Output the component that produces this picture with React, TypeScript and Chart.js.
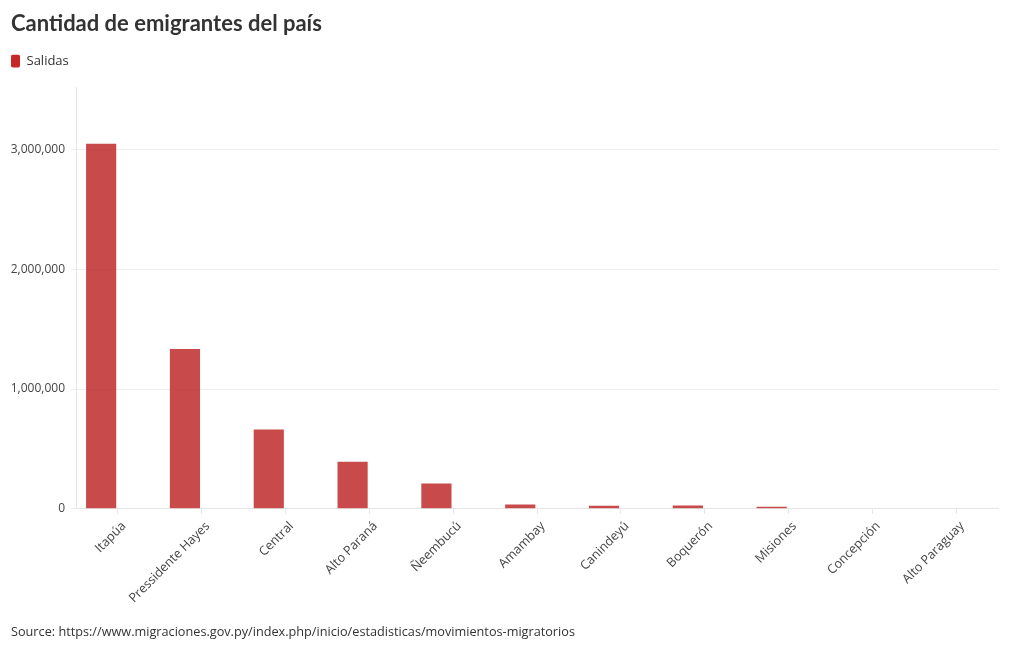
import React, { useEffect, useRef } from "react";
import { Chart, registerables } from "chart.js";

Chart.register(...registerables);

const categories = [
  "Itapúa",
  "Pressidente Hayes",
  "Central",
  "Alto Paraná",
  "Ñeembucú",
  "Amambay",
  "Canindeyú",
  "Boquerón",
  "Misiones",
  "Concepción",
  "Alto Paraguay",
];
const salidas = [3050000, 1335000, 663000, 393000, 210000, 35000, 25000, 28000, 16000, 0, 0];
const emptySeries = [null, null, null, null, null, null, null, null, null, null, null];
const yTicks = [0, 1000000, 2000000, 3000000];

const TITLE = "Cantidad de emigrantes del país";
const SOURCE = "Source: https://www.migraciones.gov.py/index.php/inicio/estadisticas/movimientos-migratorios";
const FONT = "'Open Sans', 'Noto Sans', sans-serif";

const legendGap = {
  id: "legendGap",
  beforeInit(chart: any) {
    const lg = chart.legend;
    if (!lg) return;
    const orig = lg.fit;
    lg.fit = function (this: any) {
      orig.call(this);
      this.height = 33;
    };
  },
};

export default function App() {
  const ref = useRef<HTMLCanvasElement | null>(null);
  useEffect(() => {
    if (!ref.current) return;
    const chart = new Chart(ref.current, {
      type: "bar",
      data: {
        labels: categories,
        datasets: [
          {
            label: "Salidas",
            data: salidas,
            backgroundColor: "rgba(186,29,29,0.8)",
            borderWidth: 0,
          },
          {
            label: "",
            data: emptySeries as any,
            backgroundColor: "rgba(0,0,0,0)",
          },
        ],
      },
      plugins: [legendGap],
      options: {
        responsive: true,
        maintainAspectRatio: false,
        animation: false,
        layout: { padding: { left: 11, right: 22, top: 0, bottom: 10 } },
        plugins: {
          title: {
            display: true,
            text: TITLE,
            align: "start",
            color: "#333333",
            font: { family: "Lato, sans-serif", size: 22, weight: "bold", lineHeight: 1.2 },
            padding: { top: 11, bottom: 17 },
          },
          subtitle: {
            display: true,
            text: SOURCE,
            position: "bottom",
            align: "start",
            color: "#333333",
            font: { family: FONT, size: 12.7 },
            padding: 0,
          },
          legend: {
            display: true,
            align: "start",
            labels: {
              boxWidth: 9,
              boxHeight: 13,
              padding: 0,
              color: "#333333",
              font: { family: FONT, size: 13 },
              useBorderRadius: true,
              borderRadius: 2,
              generateLabels: () => [
                {
                  text: "Salidas",
                  fillStyle: "#c62828",
                  strokeStyle: "#c62828",
                  lineWidth: 0,
                  datasetIndex: 0,
                  borderRadius: 2,
                  fontColor: "#333333",
                },
              ],
            },
          },
          tooltip: { enabled: false },
        },
        scales: {
          x: {
            grid: {
              display: true,
              drawOnChartArea: false,
              drawTicks: true,
              tickLength: 5,
              offset: false,
              color: "#e6e6e6",
            },
            border: { display: true, color: "#e6e6e6" },
            ticks: {
              minRotation: 45,
              maxRotation: 45,
              color: "#444444",
              font: { family: FONT, size: 12.6 },
              padding: 5,
            },
            afterFit: (s: any) => {
              s.height = 116;
              if (!s.__shifted) {
                const orig = s._computeLabelItems;
                s._computeLabelItems = function (this: any, ca: any) {
                  const items = orig.call(this, ca);
                  items.forEach((it: any) => {
                    if (it.options && it.options.translation) {
                      it.options.translation = [it.options.translation[0] + 6, it.options.translation[1]];
                    }
                  });
                  return items;
                };
                s.__shifted = true;
              }
            },
          },
          y: {
            min: 0,
            max: 3520000,
            grid: { color: "#eeeeee", tickLength: 5 },
            border: { display: true, color: "#e6e6e6" },
            ticks: {
              stepSize: 1000000,
              color: "#444444",
              font: { family: FONT, size: 12 },
              padding: 6,
              callback: (v: any) => Number(v).toLocaleString("en-US"),
            },
            afterBuildTicks: (s: any) => {
              s.ticks = yTicks.map((v) => ({ value: v }));
            },
            afterFit: (s: any) => {
              s.width = 65;
            },
          },
        },
      },
    });
    return () => chart.destroy();
  }, []);
  return (
    <div style={{ position: "fixed", left: 0, top: 0, width: 1020, height: 650, background: "#fff" }}>
      <canvas ref={ref} />
    </div>
  );
}
